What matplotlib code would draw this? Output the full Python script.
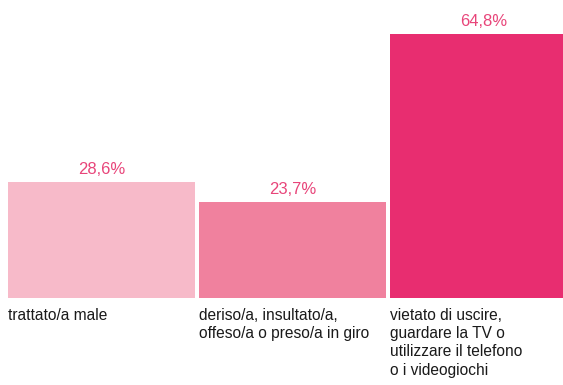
import matplotlib
matplotlib.use('Agg')
import matplotlib.pyplot as plt

# share of respondents per type of treatment
categories = ['trattato/a male',
              'deriso/a, insultato/a,\noffeso/a o preso/a in giro',
              'vietato di uscire,\nguardare la TV o\nutilizzare il telefono\no i videogiochi']
values = [28.6, 23.7, 64.8]
colors = ['#F7BAC9', '#F0819E', '#E82D70']

plt.rcParams['font.family'] = ['Liberation Sans', 'DejaVu Sans']

fig = plt.figure(figsize=(5.63, 3.85), dpi=100)
ax = fig.add_axes([8 / 563, 86.7 / 385, 555 / 563, 298.3 / 385])

width = 187 / 191
positions = range(len(values))
ax.bar(positions, values, width=width, color=colors)
ax.set_xlim(-width / 2, -width / 2 + 555 / 191)
ax.set_ylim(0, 298.3 / 4.08)

for x, v in zip(positions, values):
    ax.text(x, v + 1.85, f'{v:.1f}%'.replace('.', ','), ha='center', va='baseline',
            color='#E8457A', fontsize=12)

for x, label in zip(positions, categories):
    ax.text(x - width / 2, -2.3, label, ha='left', va='top', fontsize=11.2,
            color='#1a1a1a', linespacing=1.28)

ax.axis('off')
fig.savefig('out.png', dpi=100)
